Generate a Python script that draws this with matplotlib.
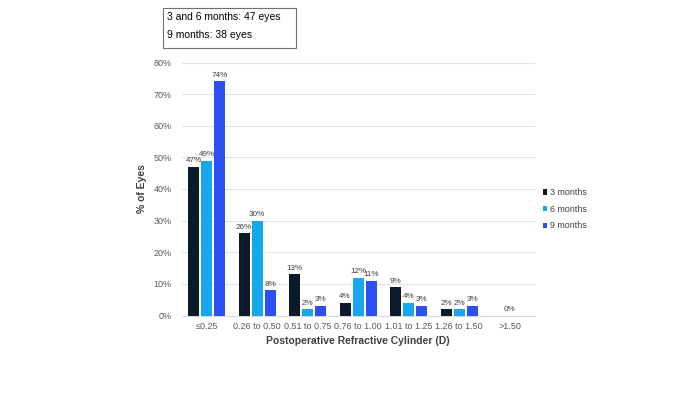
import matplotlib.pyplot as plt
import numpy as np
from matplotlib.patches import Rectangle

plt.rcParams['font.family'] = ['Liberation Sans', 'DejaVu Sans']

categories = ["≤0.25", "0.26 to 0.50", "0.51 to 0.75", "0.76 to 1.00",
              "1.01 to 1.25", "1.26 to 1.50", ">1.50"]
m3 = [47, 26, 13, 4, 9, 2, 0]
m6 = [49, 30, 2, 12, 4, 2, 0]
m9 = [74, 8, 3, 11, 3, 3, 0]
series = [("3 months", m3, "#0b1a2b"), ("6 months", m6, "#17a7ec"),
          ("9 months", m9, "#2c50f4")]

fig = plt.figure(figsize=(7, 3.94), dpi=100)
ax = fig.add_axes([181.5 / 700, 1 - 315.5 / 394, 353.5 / 700, 253 / 394])

x = np.arange(len(categories))
w = 0.22
gap = 0.04
for i, (name, vals, col) in enumerate(series):
    off = (i - 1) * (w + gap)
    ax.bar(x + off, vals, width=w, color=col, label=name, zorder=3)
    for xi, v in zip(x, vals):
        if v == 0 and i != 1:
            continue
        ax.text(xi + off, v + 0.8, f"{v}%", ha="center", va="bottom",
                fontsize=5.9, color="#404040")

ax.set_ylim(0, 80)
ax.set_xlim(-0.5, len(categories) - 0.5)
ax.set_yticks(range(0, 81, 10))
ax.set_yticklabels([f"{t}%" for t in range(0, 81, 10)])
ax.set_xticks(x)
ax.set_xticklabels(categories)
ax.tick_params(axis="both", length=0, labelsize=6.5, labelcolor="#595959")
ax.tick_params(axis="y", pad=7)
ax.tick_params(axis="x", pad=5)
ax.grid(axis="y", color="#e3e3e3", linewidth=0.8, zorder=0)
for s in ["top", "right", "left"]:
    ax.spines[s].set_visible(False)
ax.spines["bottom"].set_color("#d9d9d9")

ax.set_ylabel("% of Eyes", fontsize=7.5, fontweight="bold", color="#404040", labelpad=5)
ax.set_xlabel("Postoperative Refractive Cylinder (D)", fontsize=7.5,
              fontweight="bold", color="#404040", labelpad=3)

ax.legend(loc="center left", bbox_to_anchor=(1.0, 0.42), frameon=False,
          fontsize=6.4, handlelength=0.5, handleheight=0.5, handletextpad=0.3,
          labelspacing=0.85, labelcolor="#404040")

fig.patches.append(Rectangle((163 / 700, 1 - 48 / 394), 133 / 700, 40 / 394,
                             transform=fig.transFigure, fill=False,
                             edgecolor="#707070", linewidth=0.8))
fig.text(167 / 700, 1 - 17 / 394, "3 and 6 months: 47 eyes", fontsize=7.5, va="center")
fig.text(167 / 700, 1 - 35 / 394, "9 months: 38 eyes", fontsize=7.5, va="center")

fig.savefig("out.png", dpi=100)
